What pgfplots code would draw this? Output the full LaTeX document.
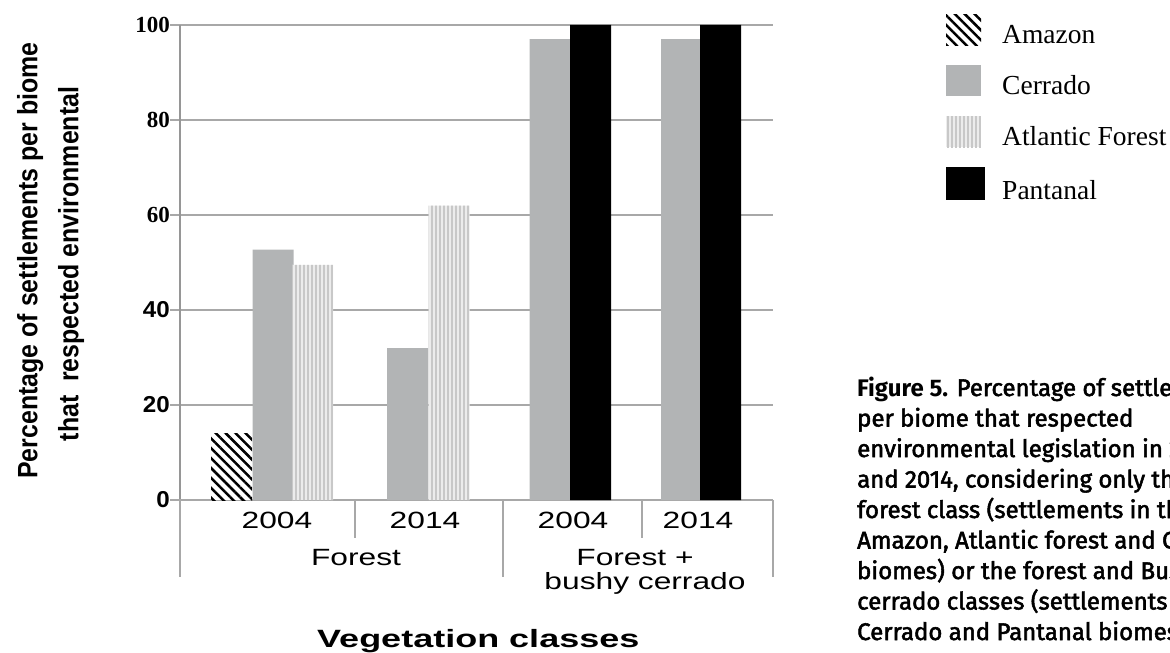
\documentclass[border=0pt]{standalone}
\usepackage{fontspec}
\usepackage{pgfplots}
\pgfplotsset{compat=1.18}
\usetikzlibrary{patterns.meta}
\setmainfont{Liberation Serif}
\newfontfamily\xlabfont{Liberation Sans}[FakeStretch=1.35]
\newfontfamily\vegfont{Liberation Sans}[FakeStretch=1.44]
\newfontfamily\ylabfont{Liberation Sans}[FakeStretch=0.89]
\newfontfamily\ytsans{Liberation Sans}[FakeStretch=1.05]
\newfontfamily\firabody{Fira Sans}[FakeBold=2.2]
\newfontfamily\firahead{Fira Sans}
\definecolor{cerrado}{RGB}{178,180,181}
\definecolor{gridgray}{RGB}{168,168,168}
\definecolor{axisgray}{RGB}{150,150,150}
\definecolor{atlfill}{RGB}{236,236,236}
\definecolor{atlline}{RGB}{200,200,200}
\begin{document}
\begin{tikzpicture}[x=1bp,y=1bp]
\begin{axis}[
  at={(180bp,-500bp)}, anchor=south west,
  width=593bp, height=475bp, scale only axis,
  xmin=180, xmax=773, ymin=0, ymax=100,
  axis x line*=bottom, axis y line*=left,
  x axis line style={draw=gridgray, line width=2bp},
  y axis line style={draw=axisgray, line width=2bp},
  ytick={0,20,40,60,80,100},
  yticklabels={{\ytsans\bfseries 0},{\ytsans\bfseries 20},{\ytsans\bfseries 40},{\bfseries 60},{\bfseries 80},{\bfseries 100}},
  yticklabel style={font=\fontsize{23bp}{25bp}\selectfont, anchor=east, inner sep=0pt},
  ymajorgrids, grid style={draw=gridgray, line width=2bp},
  tick align=outside, ytick pos=left, major tick length=10bp,
  ytick style={draw=gridgray, line width=2bp},
  xtick={277,425,573,698}, xticklabels={2004,2014,2004,2014},
  xtick style={draw=none},
  xticklabel style={font=\xlabfont\fontsize{23.5bp}{25bp}\selectfont, anchor=base, inner sep=0pt, yshift=-18bp},
  ybar, bar width=41,
  legend style={at={(1.29174,1.02316)}, anchor=north west, draw=none, fill=none,
    inner sep=0pt, row sep=20bp, column sep=17bp,
    font=\fontsize{27.5bp}{30bp}\selectfont, nodes={inner sep=0pt}, cells={anchor=base west}},
  mylegend/.style={legend image code/.code={\path[##1, draw=none] (0bp,-2bp) rectangle (35bp,29bp);}},
]
\addplot[fill=white, draw=none, bar shift=0,
  postaction={pattern={Lines[angle=-45,distance=7bp,line width=2.5bp]}, pattern color=black}, mylegend]
  coordinates {(231.5,14)};
\addlegendentry{Amazon}
\addplot[fill=cerrado, draw=none, bar shift=0, mylegend]
  coordinates {(273,52.7) (407.5,32) (550,97) (681.5,97)};
\addlegendentry{Cerrado}
\addplot[fill=atlfill, draw=none, bar shift=0,
  postaction={pattern={Lines[angle=90,distance=4bp,line width=1.5bp]}, pattern color=atlline}, mylegend]
  coordinates {(312.5,49.5) (449,62)};
\addlegendentry{Atlantic Forest}
\addplot[fill=black, draw=none, bar shift=0,
  legend image code/.code={\path[fill=black] (0bp,-1bp) rectangle (39bp,32bp);}]
  coordinates {(590.5,100) (720.5,100)};
\addlegendentry{Pantanal}
\end{axis}
% category separators below the axis
\begin{scope}[draw=gridgray, line width=2bp]
\draw (180,-499) -- (180,-577);
\draw (355,-500) -- (355,-538);
\draw (503,-500) -- (503,-577);
\draw (642,-500) -- (642,-538);
\draw (773,-500) -- (773,-577);
\end{scope}
\begin{scope}[every node/.style={inner sep=0pt, font=\xlabfont\fontsize{23.5bp}{25bp}\selectfont}]
\node[anchor=base] at (356,-565) {Forest};
\node[anchor=base] at (635,-565) {Forest +};
\node[anchor=base] at (645,-589) {bushy cerrado};
\end{scope}
\node[anchor=base west, inner sep=0pt] at (317,-647) {\vegfont\bfseries\fontsize{25bp}{27bp}\selectfont Vegetation classes};
% y label
\node[rotate=90, anchor=base, inner sep=0pt] at (37.4,-260.5) {\ylabfont\bfseries\fontsize{28bp}{30bp}\selectfont Percentage of settlements per biome};
\node[rotate=90, anchor=base, inner sep=0pt] at (78.4,-264) {\ylabfont\bfseries\fontsize{28bp}{30bp}\selectfont that\ \ respected environmental};
% caption
\begin{scope}
\clip (0,0) rectangle (1170,-653);
\begin{scope}[every node/.style={anchor=base west, inner sep=0pt, font=\firabody\fontsize{24bp}{26bp}\selectfont}]
\node at (857,-396) {{\firahead\bfseries Figure 5.} Percentage of settlements};
\node at (857,-426.5) {per biome that respected};
\node at (857,-457) {environmental legislation in 2004};
\node at (857,-487.5) {and 2014, considering only the};
\node at (857,-518) {forest class (settlements in the};
\node at (857,-548.5) {Amazon, Atlantic forest and Cerrado};
\node at (857,-579) {biomes) or the forest and Bushy};
\node at (857,-609.5) {cerrado classes (settlements in the};
\node at (857,-640) {Cerrado and Pantanal biomes).};
\end{scope}
\end{scope}
\pgfresetboundingbox
\path[use as bounding box] (0,0) rectangle (1170,-653);
\end{tikzpicture}
\end{document}
